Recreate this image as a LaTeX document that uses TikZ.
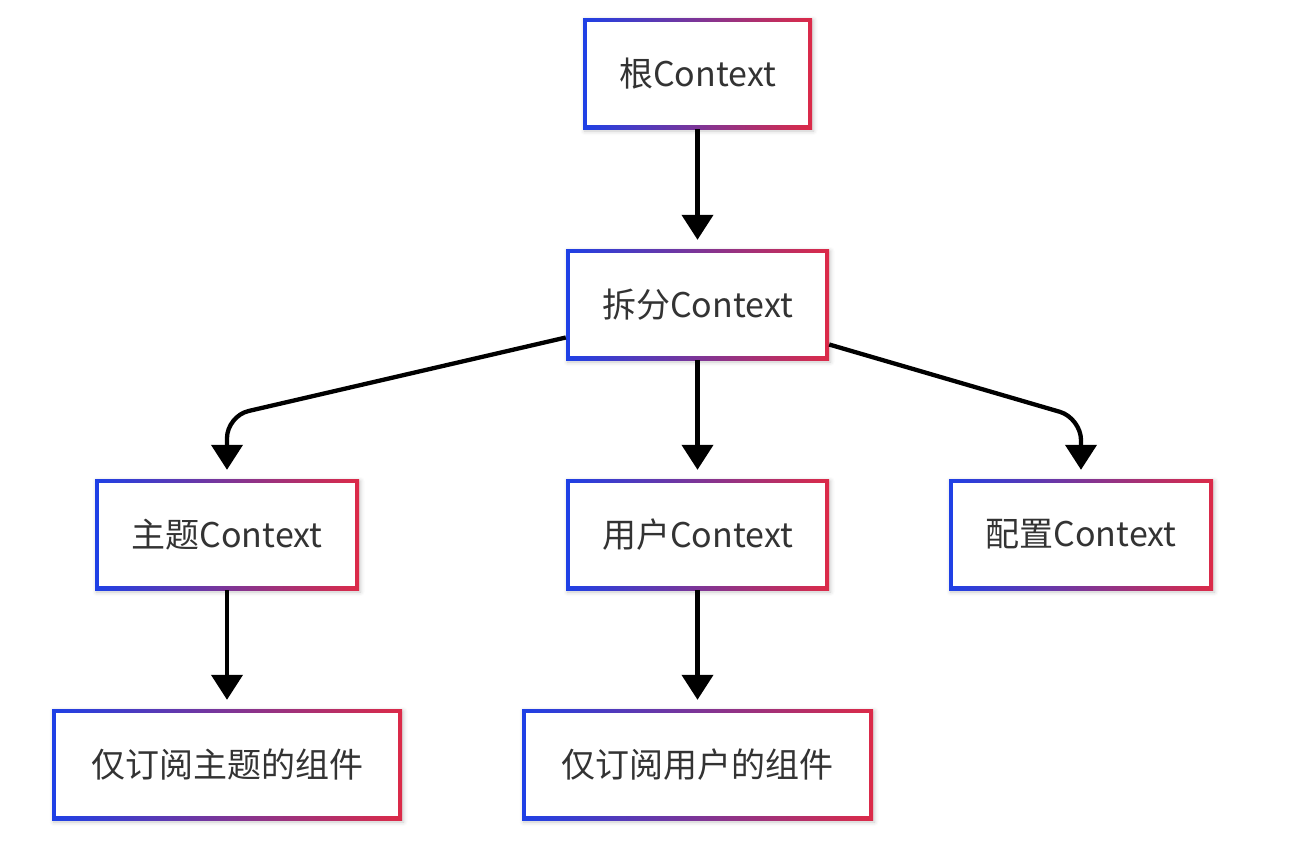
\documentclass[tikz,border=0pt]{standalone}
\usepackage{fontspec}
\setmainfont{Noto Sans CJK SC}
\usetikzlibrary{arrows.meta,shadows.blur,calc}
\definecolor{gblue}{HTML}{1E40E6}
\definecolor{gred}{HTML}{DC2A48}
\definecolor{txt}{HTML}{333333}
\tikzset{
  gbox/.style={rectangle, fill=white, inner sep=0pt, text=txt,
    font=\fontsize{34}{38}\selectfont,
    blur shadow={shadow xshift=1.5pt, shadow yshift=-2pt, shadow blur radius=4pt, shadow opacity=22},
    path picture={
      \shade[left color=gblue, right color=gred]
        (path picture bounding box.south west) rectangle (path picture bounding box.north east);
      \fill[white]
        ([shift={(4pt,4pt)}]path picture bounding box.south west) rectangle
        ([shift={(-4pt,-4pt)}]path picture bounding box.north east);
    }},
  conn/.style={line width=4.3pt, black, -{Triangle[length=25pt,width=31pt]}, shorten >=9pt},
}
\begin{document}
\begin{tikzpicture}[x=1pt,y=-1pt]
\useasboundingbox (0,0) rectangle (1315,865);
\node[gbox, minimum width=229pt, minimum height=111pt] (root) at (697.5,73.5) {根Context};
\node[gbox, minimum width=263pt, minimum height=111pt] (split) at (697.5,304.5) {拆分Context};
\node[gbox, minimum width=264pt, minimum height=111pt] (theme) at (227,534.5) {主题Context};
\node[gbox, minimum width=263pt, minimum height=111pt] (user) at (697.5,534.5) {用户Context};
\node[gbox, minimum width=264pt, minimum height=111pt] (config) at (1081,534.5) {配置Context};
\node[gbox, minimum width=350pt, minimum height=111pt] (subtheme) at (227,764.5) {仅订阅主题的组件};
\node[gbox, minimum width=351pt, minimum height=111pt] (subuser) at (697.5,764.5) {仅订阅用户的组件};
\coordinate (lc) at (227,416);
\coordinate (rc) at (1081,418);
\draw[conn] (root) -- (split);
\draw[conn] (split) -- (user);
\draw[conn] (theme) -- (subtheme);
\draw[conn] (user) -- (subuser);
\draw[conn, rounded corners=22pt] ([yshift=-33pt]split.west) -- (lc) -- (theme.north);
\draw[conn, rounded corners=22pt] ([yshift=-40pt]split.east) -- (rc) -- (config.north);
\end{tikzpicture}
\end{document}
